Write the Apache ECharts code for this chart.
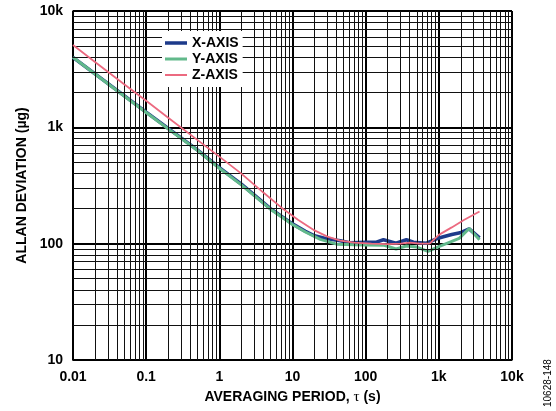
<!DOCTYPE html>
<html>
<head>
<meta charset="utf-8">
<script src="https://cdn.jsdelivr.net/npm/echarts@6/dist/echarts.min.js"></script>
<style>
  html, body { margin: 0; padding: 0; background: #fff; }
  #main { width: 556px; height: 411px; }
</style>
</head>
<body>
<div id="main"></div>
<script>
// tick labels per decade
const xTickLabels = ['0.01', '0.1', '1', '10', '100', '1k', '10k']
const yTickLabels = ['10', '100', '1k', '10k']

// averaging period tau (s) and allan deviation (ug) for each axis
const xAxisTau = [0.01, 0.02, 0.05, 0.1, 0.2, 0.5, 1, 2, 5, 10, 15, 20, 30, 45, 60, 100, 140, 175, 260, 360, 450, 680, 1000, 1500, 1950, 2600, 3600]
const xAxisDev = [4000, 2880, 1870, 1350, 980, 640, 450, 325, 200, 148, 128, 117, 110, 106, 102, 103, 103, 108, 101, 108, 103, 101, 112, 120, 124, 134, 112]

const yAxisTau = [0.01, 0.02, 0.05, 0.1, 0.2, 0.5, 1, 2, 5, 10, 15, 24, 40, 70, 100, 180, 260, 360, 500, 710, 1000, 1900, 2600, 3600]
const yAxisDev = [4000, 2870, 1860, 1340, 970, 635, 445, 320, 198, 146, 126, 109, 99, 98, 97.5, 97, 90, 95.5, 93.5, 86, 94.5, 111, 135, 108]

const zAxisTau = [0.01, 0.02, 0.05, 0.1, 0.2, 0.5, 1, 2, 4, 7, 12, 20, 30, 45, 70, 120, 200, 300, 400, 550, 750, 1000, 1500, 2200, 3600]
const zAxisDev = [5100, 3650, 2350, 1690, 1210, 780, 560, 400, 275, 205, 160, 130, 115, 106, 102, 100, 99, 100, 102, 100, 100, 119, 138, 160, 189]

const seriesNames = ['X-AXIS', 'Y-AXIS', 'Z-AXIS']
const seriesColors = ['#1d3a8a', '#62b98b', '#ec6a80']

function pairs(tau, dev) {
  return tau.map((t, i) => [t, dev[i]])
}

// minor grid lines 2..9 inside every decade
function minors(decades) {
  let out = []
  decades.forEach((d) => {
    for (let k = 2; k <= 9; k++) out.push(d * k)
  })
  return out
}
const xMinor = minors([0.01, 0.1, 1, 10, 100, 1000])
const yMinor = minors([10, 100, 1000])

// legend line icon of a given thickness inside a 22x14 box
function lineIcon(h) {
  let y0 = 7 - h / 2
  return 'path://M0,0h0.01v0.01h-0.01z M0,' + y0 + 'h22v' + h + 'h-22z M21.99,13.99h0.01v0.01h-0.01z'
}

const font = 'Arial, "Liberation Sans", sans-serif'
const gridColor = '#111'

let chart = echarts.init(document.getElementById('main'))

let gridLines = xMinor.map((v) => ({ xAxis: v })).concat(yMinor.map((v) => ({ yAxis: v })))

let option = {
  animation: false,
  grid: { left: 73, right: 44, top: 11, bottom: 51 },
  legend: {
    z: 20,
    data: [
      { name: seriesNames[0], icon: lineIcon(3.5) },
      { name: seriesNames[1], icon: lineIcon(3) },
      { name: seriesNames[2], icon: lineIcon(2) },
    ],
    orient: 'vertical',
    left: 162,
    top: 31,
    itemWidth: 22,
    itemHeight: 14,
    itemGap: 2,
    padding: [5, 4, 5, 3],
    backgroundColor: '#fff',
    textStyle: { fontFamily: font, fontWeight: 'bold', fontSize: 14, color: '#000' },
  },
  xAxis: {
    type: 'log',
    logBase: 10,
    min: 0.01,
    max: 10000,
    name: 'AVERAGING PERIOD, {t|τ} (s)',
    nameLocation: 'middle',
    nameGap: 30,
    nameTextStyle: {
      fontFamily: font, fontWeight: 'bold', fontSize: 14, color: '#000',
      rich: { t: { fontFamily: '"Liberation Serif", serif', fontWeight: 'normal', fontSize: 15, color: '#000' } },
    },
    axisLine: { show: true, lineStyle: { color: '#000', width: 1.5 } },
    axisTick: { show: false },
    axisLabel: {
      margin: 10,
      fontFamily: font, fontWeight: 'bold', fontSize: 14, color: '#000',
      formatter: (v) => xTickLabels[Math.round(Math.log10(v)) + 2],
    },
    splitLine: { show: true, lineStyle: { color: '#000', width: 2 } },
  },
  yAxis: {
    type: 'log',
    logBase: 10,
    min: 10,
    max: 10000,
    name: 'ALLAN DEVIATION (µg)',
    nameLocation: 'middle',
    nameGap: 44,
    nameTextStyle: { fontFamily: font, fontWeight: 'bold', fontSize: 14, color: '#000' },
    axisLine: { show: true, lineStyle: { color: '#000', width: 1.5 } },
    axisTick: { show: false },
    axisLabel: {
      margin: 10,
      fontFamily: font, fontWeight: 'bold', fontSize: 14, color: '#000',
      formatter: (v) => yTickLabels[Math.round(Math.log10(v)) - 1],
    },
    splitLine: { show: true, lineStyle: { color: '#000', width: 2 } },
  },
  series: [
    {
      name: 'grid',
      type: 'line',
      data: [[1, 100]],
      showSymbol: false,
      lineStyle: { width: 0 },
      silent: true,
      z: 1,
      markLine: {
        silent: true,
        symbol: ['none', 'none'],
        label: { show: false },
        lineStyle: { color: gridColor, width: 1, type: 'solid' },
        emphasis: { disabled: true },
        data: gridLines,
      },
    },
    {
      name: seriesNames[0],
      type: 'line',
      data: pairs(xAxisTau, xAxisDev),
      showSymbol: false,
      symbol: 'none',
      z: 3,
      lineStyle: { color: seriesColors[0], width: 3.5 },
      itemStyle: { color: seriesColors[0] },
    },
    {
      name: seriesNames[1],
      type: 'line',
      data: pairs(yAxisTau, yAxisDev),
      showSymbol: false,
      symbol: 'none',
      z: 4,
      lineStyle: { color: seriesColors[1], width: 3 },
      itemStyle: { color: seriesColors[1] },
    },
    {
      name: seriesNames[2],
      type: 'line',
      data: pairs(zAxisTau, zAxisDev),
      showSymbol: false,
      symbol: 'none',
      z: 5,
      lineStyle: { color: seriesColors[2], width: 1.8 },
      itemStyle: { color: seriesColors[2] },
    },
  ],
  graphic: [
    {
      type: 'text',
      x: 543,
      y: 407,
      rotation: Math.PI / 2,
      style: { text: '10628-148', fontFamily: font, fontSize: 10, fill: '#000' },
    },
  ],
}
chart.setOption(option)

window.addEventListener('resize', () => {
  chart.resize()
})
</script>
</body>
</html>
